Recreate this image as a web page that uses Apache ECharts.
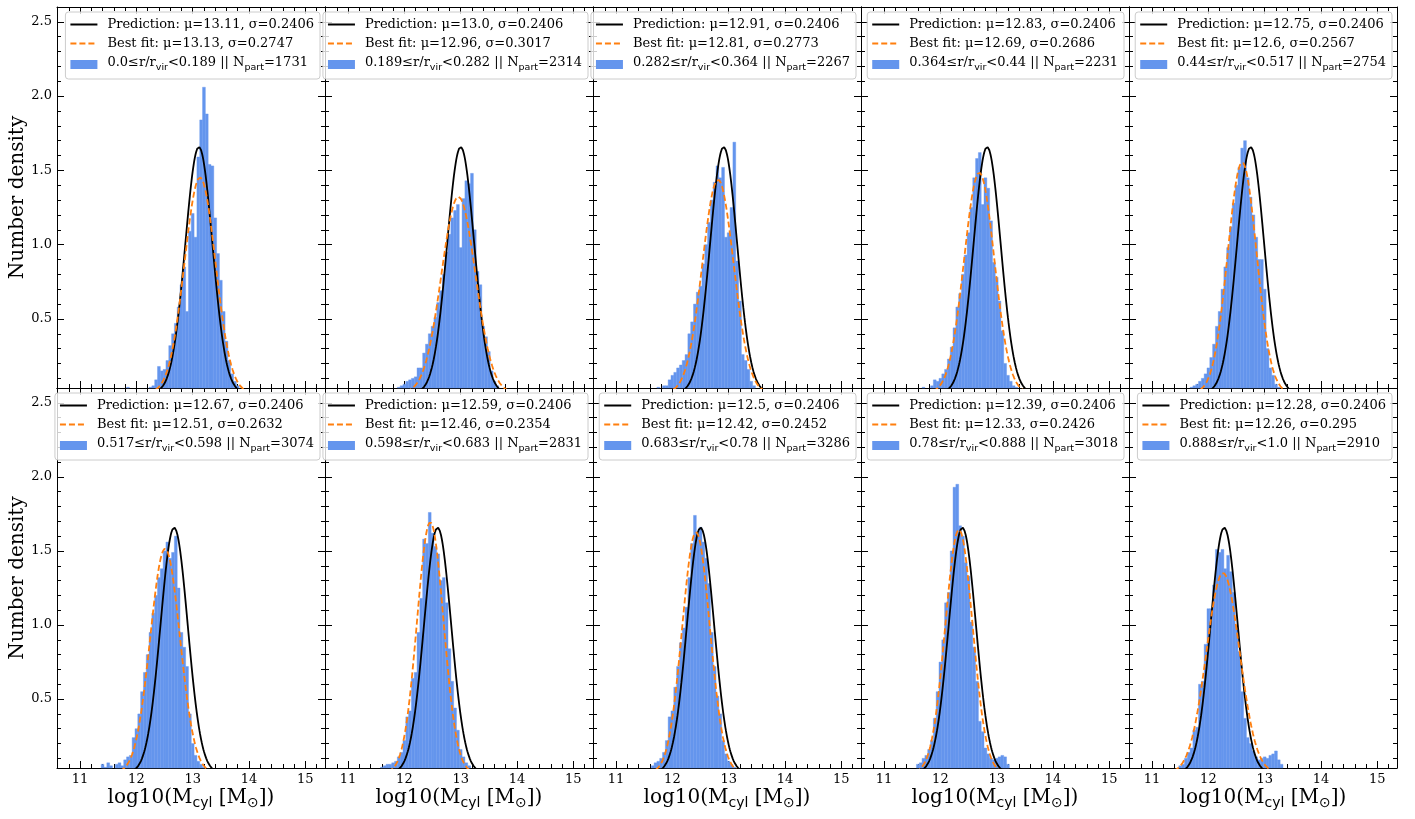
<!DOCTYPE html>
<html>
<head>
<meta charset="utf-8">
<title>Number density of log10(M_cyl) in radial bins</title>
<script src="https://cdn.jsdelivr.net/npm/echarts@6/dist/echarts.min.js"></script>
<style>
  html, body { margin: 0; padding: 0; background: #ffffff; }
  #chart { width: 1415px; height: 819px; }
</style>
</head>
<body>
<div id="chart"></div>
<script>
// ---- Data -------------------------------------------------------------
// Gaussian model parameters per radial bin
const predMu = ['13.11', '13.0', '12.91', '12.83', '12.75', '12.67', '12.59', '12.5', '12.39', '12.28'];
const predSigma = '0.2406';
const fitMu = ['13.13', '12.96', '12.81', '12.69', '12.6', '12.51', '12.46', '12.42', '12.33', '12.26'];
const fitSigma = ['0.2747', '0.3017', '0.2773', '0.2686', '0.2567', '0.2632', '0.2354', '0.2452', '0.2426', '0.295'];

// Radial bin edges (r / r_vir) and particle counts
const rEdges = ['0.0', '0.189', '0.282', '0.364', '0.44', '0.517', '0.598', '0.683', '0.78', '0.888', '1.0'];
const nPart = [1731, 2314, 2267, 2231, 2754, 3074, 2831, 3286, 3018, 2910];

// Histogram bins: width, left edge of the first bin, and densities
const binWidth = 0.05;
const binLeft = [11.825, 11.825, 11.725, 11.675, 11.675, 11.375, 11.575, 11.625, 11.575, 11.475];
const density0 = [0.04, 0.03, 0.02, 0, 0.02, 0.03, 0.02, 0, 0.04, 0.05, 0.09, 0.18, 0.15, 0.16, 0.22, 0.32, 0.40, 0.47, 0.58, 0.73, 0.85, 0.55, 1.09, 1.21, 1.05, 1.59, 1.84, 2.06, 1.88, 1.54, 1.53, 1.18, 0.94, 0.76, 0.55, 0.35, 0.22, 0.13, 0.08, 0.05, 0.03];
const density1 = [0.03, 0.04, 0.05, 0.06, 0.08, 0.09, 0.10, 0.11, 0.17, 0.17, 0.27, 0.33, 0.40, 0.45, 0.51, 0.61, 0.69, 0.80, 0.95, 1.07, 1.18, 1.23, 1.27, 0.98, 1.31, 1.43, 1.41, 1.48, 1.10, 0.82, 0.73, 0.45, 0.38, 0.28, 0.15, 0.08, 0.05, 0.03];
const density2 = [0.04, 0.03, 0.05, 0.05, 0.09, 0.12, 0.14, 0.17, 0.19, 0.22, 0.26, 0.40, 0.48, 0.60, 0.68, 0.72, 0.87, 1.00, 1.15, 1.30, 1.42, 1.53, 1.45, 1.52, 1.05, 1.08, 1.25, 1.69, 0.89, 0.62, 0.26, 0.22, 0.16, 0.08, 0.05, 0.03];
const density3 = [0.04, 0.03, 0.03, 0.05, 0.09, 0.08, 0.10, 0.13, 0.16, 0.23, 0.31, 0.44, 0.58, 0.67, 0.80, 0.93, 1.08, 1.25, 1.45, 1.58, 1.62, 1.27, 1.45, 1.38, 1.16, 0.88, 0.78, 0.62, 0.42, 0.20, 0.12, 0.08, 0.05, 0.04];
const density4 = [0.04, 0.05, 0.06, 0.08, 0.10, 0.13, 0.17, 0.24, 0.33, 0.45, 0.55, 0.70, 0.85, 0.98, 1.12, 1.28, 1.40, 1.52, 1.65, 1.70, 1.45, 1.32, 1.20, 1.05, 0.90, 0.90, 0.70, 0.30, 0.17, 0.12, 0.06, 0.04];
const density5 = [0.06, 0.04, 0.07, 0.05, 0.03, 0.06, 0.07, 0.05, 0.09, 0.11, 0.12, 0.24, 0.30, 0.40, 0.55, 0.68, 0.80, 0.95, 1.08, 1.20, 1.32, 1.38, 1.50, 1.56, 1.45, 1.49, 1.60, 1.25, 0.95, 0.85, 0.72, 0.40, 0.20, 0.12, 0.08, 0.06, 0.04];
const density6 = [0.04, 0.05, 0.06, 0.06, 0.07, 0.08, 0.11, 0.14, 0.22, 0.38, 0.42, 0.64, 0.68, 0.95, 1.18, 1.58, 1.55, 1.76, 1.62, 1.53, 1.48, 1.30, 1.32, 1.15, 0.84, 0.62, 0.44, 0.29, 0.16, 0.11, 0.07, 0.05];
const density7 = [0.05, 0.07, 0.08, 0.10, 0.14, 0.22, 0.38, 0.42, 0.58, 0.72, 0.88, 0.98, 1.12, 1.32, 1.55, 1.74, 1.62, 1.66, 1.56, 1.45, 1.28, 0.95, 0.72, 0.52, 0.40, 0.22, 0.13, 0.08, 0.06, 0.04];
const density8 = [0.06, 0.07, 0.10, 0.12, 0.16, 0.22, 0.37, 0.55, 0.75, 0.90, 1.15, 1.22, 1.50, 1.93, 1.95, 1.67, 1.60, 1.42, 1.33, 1.02, 0.85, 0.62, 0.35, 0.28, 0.17, 0.13, 0.10, 0.09, 0.10, 0.11, 0.12, 0.11, 0.06];
const density9 = [0.05, 0.06, 0.10, 0.14, 0.17, 0.29, 0.31, 0.60, 0.62, 0.87, 1.11, 1.11, 1.27, 1.51, 1.49, 1.51, 1.38, 1.47, 1.36, 1.22, 1.00, 0.82, 0.55, 0.37, 0.24, 0.20, 0.15, 0.11, 0.09, 0.10, 0.11, 0.10, 0.12, 0.13, 0.15, 0.09, 0.06];
const densities = [density0, density1, density2, density3, density4, density5, density6, density7, density8, density9];

// Axis ticks
const xMajorTicks = [11, 12, 13, 14, 15];
const xMinorTicks = [10.6, 10.8, 11.2, 11.4, 11.6, 11.8, 12.2, 12.4, 12.6, 12.8, 13.2, 13.4, 13.6, 13.8, 14.2, 14.4, 14.6, 14.8, 15.2];
const yMajorTicks = [0.5, 1.0, 1.5, 2.0, 2.5];
const yMinorTicks = [0.1, 0.2, 0.3, 0.4, 0.6, 0.7, 0.8, 0.9, 1.1, 1.2, 1.3, 1.4, 1.6, 1.7, 1.8, 1.9, 2.1, 2.2, 2.3, 2.4, 2.6];

// ---- Layout and style ---------------------------------------------------
const X_MIN = 10.59, X_MAX = 15.35;
const Y_MIN = 0.035, Y_MAX = 2.6;
const CHART_W = 1415;
const PANEL_LEFT = 57, PANEL_W = 268;
const ROW_TOP = [7, 388], ROW_H = [381, 380];
const SERIF = "'DejaVu Serif', serif";
const SANS = "'DejaVu Sans', sans-serif";
const HIST_COLOR = '#6495ED';
const FIT_COLOR = '#ff7f0e';
const NO_SYMBOL = { color: 'rgba(0,0,0,0)', borderColor: 'rgba(0,0,0,0)', borderWidth: 0 };

function gaussian(x, mu, sigma) {
  const z = (x - mu) / sigma;
  return Math.exp(-0.5 * z * z) / (sigma * Math.sqrt(2 * Math.PI));
}

function curve(mu, sigma) {
  const pts = [];
  for (let k = 0; ; k++) {
    const x = X_MIN + k * 0.01;
    if (x > X_MAX) break;
    pts.push([x, gaussian(x, mu, sigma)]);
  }
  return pts;
}

function xAxis(grid, position, ticks, len, showLabels, withLine) {
  return {
    type: 'value', gridIndex: grid, position: position, min: X_MIN, max: X_MAX,
    axisLine: { show: withLine, onZero: false, lineStyle: { color: '#000', width: 1 } },
    axisTick: { show: true, inside: true, length: len, customValues: ticks, lineStyle: { color: '#000', width: 1 } },
    axisLabel: { show: showLabels, customValues: ticks, margin: 5, color: '#000', fontFamily: SERIF, fontSize: 13 },
    splitLine: { show: false }, axisPointer: { show: false }
  };
}

function yAxis(grid, position, ticks, len, showLabels, withLine) {
  return {
    type: 'value', gridIndex: grid, position: position, min: Y_MIN, max: Y_MAX,
    axisLine: { show: withLine, onZero: false, lineStyle: { color: '#000', width: 1 } },
    axisTick: { show: true, inside: true, length: len, customValues: ticks, lineStyle: { color: '#000', width: 1 } },
    axisLabel: { show: showLabels, customValues: ticks, margin: 5, color: '#000', fontFamily: SERIF, fontSize: 13,
      formatter: v => v.toFixed(1) },
    splitLine: { show: false }, axisPointer: { show: false }
  };
}

const grids = [], xAxes = [], yAxes = [], series = [], legends = [];

for (let i = 0; i < 10; i++) {
  const row = Math.floor(i / 5), col = i % 5;
  const left = PANEL_LEFT + col * PANEL_W;
  grids.push({ left: left, top: ROW_TOP[row], width: PANEL_W, height: ROW_H[row], containLabel: false });

  // bottom major, bottom minor, top major, top minor
  const xb = xAxis(i, 'bottom', xMajorTicks, 7, row === 1, true);
  if (row === 1) {
    xb.name = '{m|log10(M}{s|cyl}{m| [M}{s|⊙}{m|])}';
    xb.nameLocation = 'middle';
    xb.nameGap = 20;
    xb.nameTextStyle = {
      color: '#000',
      rich: {
        m: { fontFamily: SERIF, fontSize: 20, color: '#000', verticalAlign: 'top' },
        s: { fontFamily: SANS, fontSize: 14, color: '#000', verticalAlign: 'top', padding: [8, 0, 0, 0] }
      }
    };
  }
  xAxes.push(xb);
  xAxes.push(xAxis(i, 'bottom', xMinorTicks, 4, false, false));
  xAxes.push(xAxis(i, 'top', xMajorTicks, 7, false, true));
  xAxes.push(xAxis(i, 'top', xMinorTicks, 4, false, false));

  // left major, left minor, right major, right minor
  const yl = yAxis(i, 'left', yMajorTicks, 7, col === 0, true);
  if (col === 0) {
    yl.name = 'Number density';
    yl.nameLocation = 'middle';
    yl.nameGap = 29;
    yl.nameTextStyle = { color: '#000', fontFamily: SERIF, fontSize: 20 };
  }
  yAxes.push(yl);
  yAxes.push(yAxis(i, 'left', yMinorTicks, 4, false, false));
  yAxes.push(yAxis(i, 'right', yMajorTicks, 7, false, true));
  yAxes.push(yAxis(i, 'right', yMinorTicks, 4, false, false));

  const predName = `Prediction: μ=${predMu[i]}, σ=${predSigma}`;
  const fitName = `Best fit: μ=${fitMu[i]}, σ=${fitSigma[i]}`;
  const histName = `${rEdges[i]}≤r/r_vir<${rEdges[i + 1]} || N_part=${nPart[i]}`;

  const bins = densities[i].map((d, k) => [binLeft[i] + k * binWidth, binLeft[i] + (k + 1) * binWidth, d]);

  series.push({
    type: 'custom', name: histName, xAxisIndex: 4 * i, yAxisIndex: 4 * i,
    itemStyle: { color: HIST_COLOR }, silent: true, z: 1,
    data: bins,
    renderItem: function (params, api) {
      const h = api.value(2);
      if (h <= Y_MIN) return null;
      const p0 = api.coord([api.value(0), h]);
      const p1 = api.coord([api.value(1), Y_MIN]);
      return {
        type: 'rect',
        shape: { x: p0[0], y: p0[1], width: p1[0] - p0[0], height: p1[1] - p0[1] },
        style: { fill: HIST_COLOR, stroke: HIST_COLOR, lineWidth: 0.4 }
      };
    }
  });

  series.push({
    type: 'line', name: predName, xAxisIndex: 4 * i, yAxisIndex: 4 * i,
    data: curve(Number(predMu[i]), Number(predSigma)),
    symbol: 'none', showSymbol: false, clip: true, silent: true, z: 3,
    itemStyle: { color: '#000' },
    lineStyle: { color: '#000', width: 1.8 }
  });

  series.push({
    type: 'line', name: fitName, xAxisIndex: 4 * i, yAxisIndex: 4 * i,
    data: curve(Number(fitMu[i]), Number(fitSigma[i])),
    symbol: 'none', showSymbol: false, clip: true, silent: true, z: 4,
    itemStyle: { color: FIT_COLOR },
    lineStyle: { color: FIT_COLOR, width: 1.8, type: [6, 3] }
  });

  legends.push({
    orient: 'vertical',
    right: CHART_W - (left + PANEL_W) + 5,
    top: ROW_TOP[row] + 5,
    backgroundColor: 'rgba(255,255,255,0.8)',
    borderColor: '#cccccc', borderWidth: 1, borderRadius: 3,
    padding: [6, 6, 6, 4], itemGap: 6, itemWidth: 27, itemHeight: 9,
    selectedMode: false,
    data: [
      { name: predName, itemStyle: NO_SYMBOL },
      { name: fitName, itemStyle: NO_SYMBOL },
      { name: histName, icon: 'rect' }
    ],
    formatter: name => '{m|' + name.replace(/_(\w+)/g, '}{s|$1}{m|') + '}',
    textStyle: {
      color: '#000', fontFamily: SERIF, fontSize: 13, padding: [0, 0, 0, 5],
      rich: {
        m: { fontFamily: SERIF, fontSize: 13, color: '#000', verticalAlign: 'top' },
        s: { fontFamily: SANS, fontSize: 9.5, color: '#000', verticalAlign: 'top', padding: [7, 0, 0, 0] }
      }
    }
  });
}

const chart = echarts.init(document.getElementById('chart'), null, { renderer: 'canvas' });
chart.setOption({
  animation: false,
  backgroundColor: '#ffffff',
  grid: grids,
  xAxis: xAxes,
  yAxis: yAxes,
  legend: legends,
  series: series
});
</script>
</body>
</html>
